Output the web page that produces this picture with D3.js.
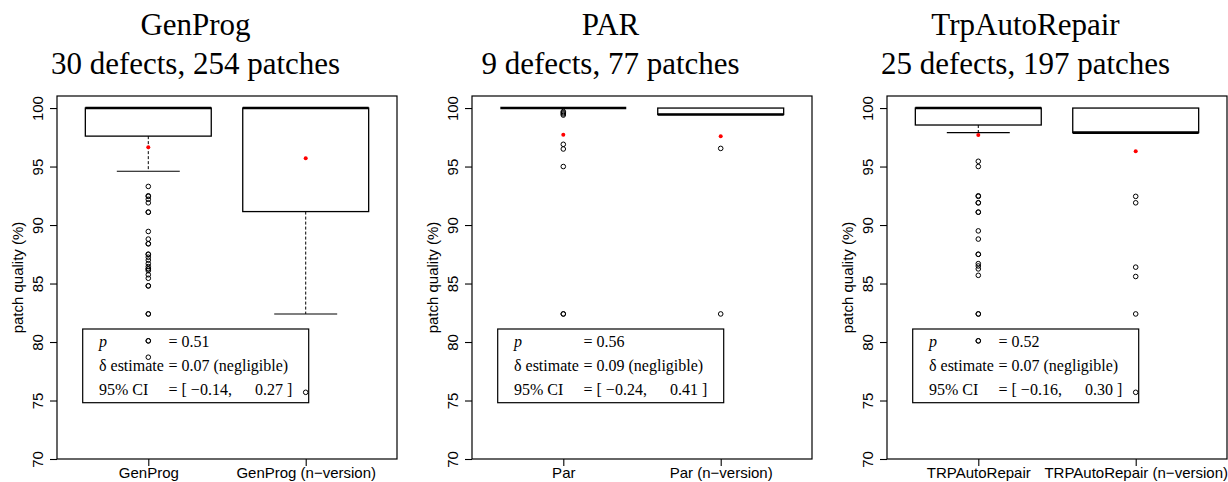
<!DOCTYPE html>
<html>
<head>
<meta charset="utf-8">
<script src="https://cdn.jsdelivr.net/npm/d3@7"></script>
<style>
  body { margin: 0; background: #fff; }
  svg { display: block; }
</style>
</head>
<body>
<div id="chart-container"></div>
<script>
// one panel per repair tool, two boxes each (original / n-version)
const tools = ["GenProg", "PAR", "TrpAutoRepair"];
const subtitles = ["30 defects, 254 patches", "9 defects, 77 patches", "25 defects, 197 patches"];
const groupLabels = [
  ["GenProg", "GenProg (n\u2212version)"],
  ["Par", "Par (n\u2212version)"],
  ["TRPAutoRepair", "TRPAutoRepair (n\u2212version)"]
];

// box stats
const boxLow   = [[97.6, 91.15], [100, 99.45], [98.55, 97.9]];
const boxMed   = [[100, 100], [100, 99.45], [100, 97.9]];
const boxHigh  = [[100, 100], [100, 100], [100, 100]];
const whiskLow = [[94.6, 82.4], [100, 99.45], [97.9, 97.9]];
const means    = [[96.65, 95.7], [97.72, 97.58], [97.7, 96.3]];

const outliers = [
  [
    [93.3, 92.5, 92.45, 92.2, 91.9, 91.1, 91.1, 89.45, 88.8, 88.4, 88.4, 87.5, 87.5, 87.25, 87.0,
     86.7, 86.45, 86.25, 86.25, 86.1, 85.75, 85.45, 84.8, 84.8, 82.4, 82.4, 80.1, 80.1, 78.7],
    [75.7]
  ],
  [
    [99.7, 99.6, 99.5, 99.4, 96.9, 96.5, 95.0, 82.4, 82.4],
    [96.55, 82.4]
  ],
  [
    [95.45, 95.0, 92.5, 92.45, 91.9, 91.9, 91.1, 91.1, 89.5, 88.8, 87.5, 87.5, 86.7, 86.5, 86.25,
     85.7, 82.4, 82.4, 80.1, 80.1],
    [92.45, 91.9, 86.4, 85.6, 82.4, 75.7]
  ]
];

// Cliff's delta summary
const pValues = ["0.51", "0.56", "0.52"];
const deltas  = ["0.07", "0.09", "0.07"];
const ciLow   = ["\u22120.14", "\u22120.24", "\u22120.16"];
const ciHigh  = ["0.27", "0.41", "0.30"];

const yTicks = [70, 75, 80, 85, 90, 95, 100];

const width = 1228, height = 482;
const frameLefts = [57, 472, 887];
const frameW = 340, frameTop = 96, frameBottom = 459;
const sans = "'Liberation Sans', Arial, sans-serif";
const serif = "'Liberation Serif', 'Times New Roman', serif";

const svg = d3.select("#chart-container")
  .append("svg")
  .attr("width", width)
  .attr("height", height);

const y = d3.scaleLinear()
  .domain([70, 101.03])
  .range([frameBottom, frameTop]);

tools.forEach((tool, t) => {
  const left = frameLefts[t];
  const x = d3.scaleLinear()
    .domain([0.42, 2.58])
    .range([0, frameW]);
  const boxW = x(1.4) - x(0.6);

  const g = svg.append("g")
    .attr("transform", `translate(${left},0)`);

  // titles
  g.append("text")
    .attr("x", 138.5).attr("y", 35)
    .style("font-family", serif).style("font-size", "31px")
    .style("text-anchor", "middle")
    .text(tool);
  g.append("text")
    .attr("x", 138.5).attr("y", 74)
    .style("font-family", serif).style("font-size", "31px")
    .style("text-anchor", "middle")
    .text(subtitles[t]);

  // frame
  g.append("rect")
    .attr("x", 0).attr("y", frameTop)
    .attr("width", frameW).attr("height", frameBottom - frameTop)
    .attr("fill", "none").attr("stroke", "#000").attr("stroke-width", 1.2);

  // y axis
  const yAxis = g.append("g")
    .call(d3.axisLeft(y).tickValues(yTicks).tickSize(7).tickFormat(d3.format("d")));
  yAxis.select(".domain").remove();
  yAxis.selectAll("line").attr("stroke", "#000").attr("stroke-width", 1.1);
  yAxis.selectAll("text")
    .attr("transform", "rotate(-90)")
    .attr("x", 0).attr("y", -14).attr("dy", 0)
    .attr("fill", "#000")
    .style("text-anchor", "middle")
    .style("font-family", sans).style("font-size", "15px");

  g.append("text")
    .attr("transform", `translate(-34,${(frameTop + frameBottom) / 2}) rotate(-90)`)
    .style("font-family", sans).style("font-size", "15px")
    .style("text-anchor", "middle")
    .text("patch quality (%)");

  // x axis
  const xAxis = g.append("g")
    .attr("transform", `translate(0,${frameBottom})`)
    .call(d3.axisBottom(x).tickValues([1, 2]).tickSize(7).tickFormat(i => groupLabels[t][i - 1]));
  xAxis.select(".domain").remove();
  xAxis.selectAll("line").attr("stroke", "#000").attr("stroke-width", 1.1);
  xAxis.selectAll("text")
    .attr("y", 19).attr("dy", 0)
    .attr("fill", "#000")
    .style("font-family", sans).style("font-size", "15px");

  // boxes
  [0, 1].forEach(i => {
    const cx = x(i + 1);
    // whisker
    if (whiskLow[t][i] < boxLow[t][i]) {
      g.append("line")
        .attr("x1", cx).attr("x2", cx)
        .attr("y1", y(boxLow[t][i])).attr("y2", y(whiskLow[t][i]))
        .attr("stroke", "#000").attr("stroke-dasharray", "3,2");
    }
    g.append("line")
      .attr("x1", cx - boxW / 4).attr("x2", cx + boxW / 4)
      .attr("y1", y(whiskLow[t][i])).attr("y2", y(whiskLow[t][i]))
      .attr("stroke", "#000").attr("stroke-width", 1.1);

    g.append("rect")
      .attr("x", cx - boxW / 2).attr("y", y(boxHigh[t][i]))
      .attr("width", boxW).attr("height", y(boxLow[t][i]) - y(boxHigh[t][i]))
      .attr("fill", "none").attr("stroke", "#000").attr("stroke-width", 1.3);
    g.append("line")
      .attr("x1", cx - boxW / 2).attr("x2", cx + boxW / 2)
      .attr("y1", y(boxMed[t][i])).attr("y2", y(boxMed[t][i]))
      .attr("stroke", "#000").attr("stroke-width", 2.6);

    g.selectAll(null)
      .data(outliers[t][i])
      .enter()
      .append("circle")
      .attr("cx", cx).attr("cy", d => y(d))
      .attr("r", 2.3)
      .attr("fill", "none").attr("stroke", "#000").attr("stroke-width", 1);

    g.append("circle")
      .attr("cx", cx).attr("cy", y(means[t][i]))
      .attr("r", 2)
      .attr("fill", "#ff0000");
  });

  // stats legend
  const lg = g.append("g").attr("transform", "translate(0,329)");
  lg.append("rect")
    .attr("x", 25.7).attr("y", 0)
    .attr("width", 226).attr("height", 73.7)
    .attr("fill", "none").attr("stroke", "#000").attr("stroke-width", 1.2);

  const rows = [
    ["p", "= " + pValues[t]],
    ["\u03b4 estimate", "= " + deltas[t] + " (negligible)"],
    ["95% CI", "= [ " + ciLow[t] + ","]
  ];
  rows.forEach((r, k) => {
    lg.append("text")
      .attr("x", 42).attr("y", 18 + k * 24)
      .style("font-family", serif).style("font-size", "16px")
      .style("font-style", k === 0 ? "italic" : "normal")
      .text(r[0]);
    lg.append("text")
      .attr("x", 111.5).attr("y", 18 + k * 24)
      .style("font-family", serif).style("font-size", "16px")
      .text(r[1]);
  });
  lg.append("text")
    .attr("x", 198).attr("y", 66)
    .style("font-family", serif).style("font-size", "16px")
    .text(ciHigh[t] + " ]");
});
</script>
</body>
</html>
